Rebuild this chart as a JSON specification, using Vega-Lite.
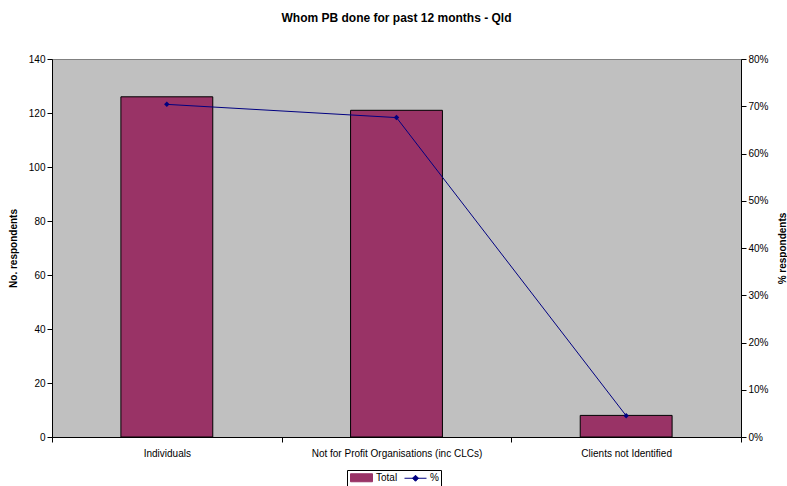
{
  "$schema": "https://vega.github.io/schema/vega-lite/v6.json",
  "width": 689,
  "height": 378,
  "autosize": "none",
  "padding": {"left": 52, "top": 59, "right": 46, "bottom": 49},
  "background": "white",
  "config": {
    "font": "Liberation Sans",
    "view": {"fill": "#c0c0c0", "stroke": "#808080", "strokeWidth": 1},
    "axis": {"grid": false, "domainColor": "#000000", "tickColor": "#000000", "labelFontSize": 10, "labelColor": "#000000", "titleFontSize": 10, "titleFontWeight": "bold", "titleColor": "#000000", "labelFont": "Liberation Sans", "titleFont": "Liberation Sans"}
  },
  "title": {"text": "Whom PB done for past 12 months - Qld", "fontSize": 12, "fontWeight": "bold", "font": "Liberation Sans", "offset": 29, "color": "#000000"},
  "data": {"values": [
    {"cat": "Individuals", "total": 126, "pct": 0.704},
    {"cat": "Not for Profit Organisations (inc CLCs)", "total": 121, "pct": 0.676},
    {"cat": "Clients not Identified", "total": 8, "pct": 0.045}
  ]},
  "encoding": {
    "x": {"field": "cat", "type": "nominal", "sort": null, "title": null,
      "scale": {"paddingInner": 0, "paddingOuter": 0},
      "axis": {"labelAngle": 0, "tickBand": "extent", "tickSize": 5, "labelPadding": 6}}
  },
  "layer": [
    {
      "mark": {"type": "bar", "stroke": "#000000", "strokeWidth": 1, "width": {"band": 0.4}},
      "encoding": {
        "y": {"field": "total", "type": "quantitative", "title": "No. respondents",
          "scale": {"domain": [0, 140], "nice": false},
          "axis": {"values": [0, 20, 40, 60, 80, 100, 120, 140], "tickSize": 5, "titlePadding": 10}},
        "color": {"datum": "Total", "type": "nominal",
          "scale": {"domain": ["Total", "%"], "range": ["#993366", "#000080"]},
          "legend": {"title": null, "orient": "none", "legendX": 295, "legendY": 411, "direction": "horizontal",
            "strokeColor": "#000000", "fillColor": "#ffffff", "padding": 2, "labelFontSize": 10, "labelFont": "Liberation Sans", "labelColor": "#000000", "columnPadding": 4, "labelOffset": 16, "symbolSize": 100,
            "encode": {"symbols": {
              "update": {
                "shape": {"signal": "datum.value === 'Total' ? 'M-0.8,-0.8H3.6V0.8H-0.8Z' : 'M-0.8,0H3.6M1.4,-0.6L2,0L1.4,0.6L0.8,0Z'"},
                "stroke": {"signal": "datum.value === 'Total' ? '#000000' : '#000080'"},
                "strokeWidth": {"value": 1}
              }
            }}}}
      }
    },
    {
      "mark": {"type": "line", "color": "#000080", "strokeWidth": 1, "point": {"shape": "diamond", "size": 30, "filled": true, "color": "#000080"}},
      "encoding": {
        "y": {"field": "pct", "type": "quantitative", "title": "% respondents",
          "scale": {"domain": [0, 0.8], "nice": false},
          "axis": {"orient": "right", "format": ".0%", "values": [0, 0.1, 0.2, 0.3, 0.4, 0.5, 0.6, 0.7, 0.8], "tickSize": 5, "titleAngle": 270, "titlePadding": 19}},
        "color": {"datum": "%", "type": "nominal",
          "legend": {"title": null, "orient": "none", "legendX": 295, "legendY": 411, "direction": "horizontal",
            "strokeColor": "#000000", "fillColor": "#ffffff", "padding": 2, "labelFontSize": 10, "labelFont": "Liberation Sans", "labelColor": "#000000", "columnPadding": 4, "labelOffset": 16, "symbolSize": 100,
            "encode": {"symbols": {
              "update": {
                "shape": {"signal": "datum.value === 'Total' ? 'M-0.8,-0.8H3.6V0.8H-0.8Z' : 'M-0.8,0H3.6M1.4,-0.6L2,0L1.4,0.6L0.8,0Z'"},
                "stroke": {"signal": "datum.value === 'Total' ? '#000000' : '#000080'"},
                "strokeWidth": {"value": 1}
              }
            }}}}
      }
    }
  ],
  "resolve": {"scale": {"y": "independent"}}
}
